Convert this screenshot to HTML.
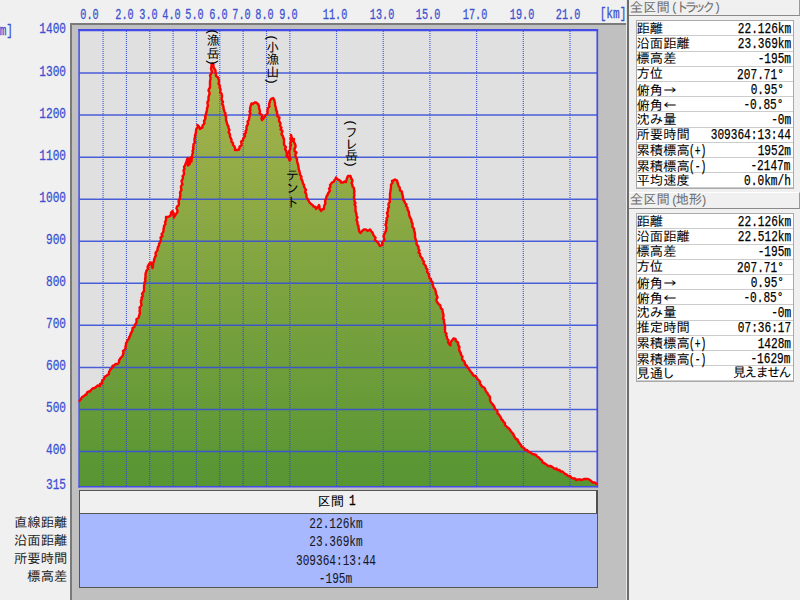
<!DOCTYPE html>
<html lang="ja"><head><meta charset="utf-8"><title>profile</title>
<style>
html,body{margin:0;padding:0}
body{width:800px;height:600px;overflow:hidden;position:relative;background:#f0f0f0;
 font-family:"Liberation Mono","IPAGothic","Noto Sans CJK JP",monospace;font-size:13.33px;color:#000;line-height:1}
.a{position:absolute;white-space:nowrap}
.j{font-family:"Liberation Mono","IPAGothic","Noto Sans CJK JP",monospace;font-size:13.33px}
.jj{font-family:"IPAGothic","Noto Sans CJK JP",sans-serif}
.l{font-family:"Liberation Mono",monospace;font-size:15px;display:inline-block;transform:scaleX(.741);-webkit-text-stroke:0.3px}
.m{font-family:"Liberation Mono",monospace;font-size:14px;display:inline-block;transform:scaleX(.794);-webkit-text-stroke:0.25px}
.lr{transform-origin:100% 50%}
.ll{transform-origin:0 50%}
.lc{transform-origin:50% 50%}
.bl{color:#3c50d0}
.vl{width:14px;writing-mode:vertical-rl;text-orientation:mixed;color:#000;line-height:14px;font-size:13px;letter-spacing:-0.3px}
.vp{font-family:"Liberation Mono",monospace;font-size:13.33px;position:relative}
.vp1{top:1.6px}
.vp2{top:-1px}
#panel{position:absolute;left:69.6px;top:22.6px;width:556.3px;height:600px;background:#c0c0c0;border-left:2.3px solid #7a7a7a;border-top:2.3px solid #7a7a7a;box-sizing:border-box}
#split1{position:absolute;left:625.9px;top:0;width:1.3px;height:600px;background:#e6e6e6}
#split2{position:absolute;left:627.2px;top:0;width:1.4px;height:600px;background:#6c6c6c}
.hd{position:absolute;left:629px;width:171px;background:#f0f0f0;border-bottom:1.3px solid #8a8a8a;border-right:1.5px solid #999;box-sizing:border-box}
.hd span{position:absolute;left:0.8px;font-family:"Liberation Mono","IPAGothic","Noto Sans CJK JP",monospace;font-size:13.33px;color:#6e6e6e;white-space:nowrap}
.hd .p{position:static;font-size:12px;margin:0 -1.8px;vertical-align:0.5px}
.hd .kn{position:static;letter-spacing:-4.4px;margin-right:4.4px}
.tb{position:absolute;left:636px;width:157.5px;background:#fff;border:1px solid #aaa;box-sizing:border-box}
.row{position:absolute;left:0;width:155.5px;height:15.2px;border-bottom:1px solid #ccc;box-sizing:border-box}
.row .k{position:absolute;left:-0.5px;top:1.5px;white-space:nowrap}
.row .v{position:absolute;right:1.7px;top:0.8px;white-space:nowrap}
#sec{position:absolute;left:78.5px;top:489.6px;width:519px;height:24.2px;background:#f0f0f0;border:1.3px solid #555;border-right:2px solid #505050;box-sizing:border-box}
#bluebox{position:absolute;left:78.5px;top:513.2px;width:519px;height:74.5px;background:#a7b8ff;border:1.2px solid #555;box-sizing:border-box}
</style></head><body>
<div id="panel"></div>
<div id="split1"></div><div id="split2"></div>

<svg id="chart" width="800" height="600" viewBox="0 0 800 600" style="position:absolute;left:0;top:0">
<defs><linearGradient id="g" gradientUnits="userSpaceOnUse" x1="0" y1="60" x2="0" y2="487"><stop offset="0" stop-color="rgb(169,180,77)"/><stop offset="1" stop-color="rgb(87,149,51)"/></linearGradient></defs>
<rect x="79.5" y="30.5" width="517.5" height="456.0" fill="#e0e0e0"/>
<polygon points="79.5,486.5 79.5,401 80,400 85,395 91.25,390 97.5,385.5 100,386 103.75,378.75 108.75,373.75 112.5,366.25 117.5,363.75 121.25,357.5 126.25,345 132.5,330 138.75,316.25 141.25,302.5 143.75,287.5 146.25,272.5 147.5,267 151.25,262.5 152.5,268 153.75,260 160,242.5 163.75,227.5 166.25,217 170,216.25 172.5,211.25 173.75,217.5 176.25,213.75 178.75,200 181.25,186.25 183.75,172.5 185.5,163.75 186.4,161.5 187.3,158 188,165.5 188.9,159.5 189.6,164.5 190.4,157.5 191.3,161.5 192,157.5 193,147.5 196.25,132.5 197.5,125 200,128.75 202.5,127.5 206.25,115 210,82.5 212.5,63.5 215.5,72.5 218.75,82.5 225,115 230,135 235,150 238.75,149.5 243.75,137.5 247.5,125 251.5,103.5 256.25,102.5 258.75,106.25 262,120 266.25,115 270,101.25 273,98 276.25,110 280,122.5 283.75,141 287.5,157 289.5,160.5 290.75,135 292.5,141 293.75,138.75 296.25,157.5 298.75,170 303.75,185 307.5,198.75 311.25,203.75 316.25,208.75 318.75,205 321.25,211.25 323.75,208.75 327.5,195 331.25,183.75 336.25,177.5 341.25,182.5 346.25,182 348,176.25 350.5,176.25 353.75,190 356.25,212.5 358.75,231.25 360.5,233 363.75,229.5 367.5,231.25 370,229.5 372.5,232.5 376.25,241.25 380,246.25 382.5,245 385,232.5 387.5,215 390,195 392,181.25 395,179.5 397.5,182.5 402.5,195 406.25,206.25 410,217.5 413.75,228.5 416.25,240.5 420,255.5 425,265 428.75,276.25 432.5,283.75 436.25,292.5 437.5,302.5 442.5,311.25 444.5,323.75 446.25,335 448.75,343.75 450.5,345.5 452.5,340 455.5,338.75 458,342.5 460,352 463.75,361.25 468.75,368.75 472.5,374 477.5,378.75 483.75,387.5 490,398.75 495,408.75 501.25,417.5 506.25,426.25 510,430 515,437.5 520,443.75 525,450 532.5,453.75 538.75,457.5 542.5,462.5 550,466.25 557.5,470 565,473.75 571.25,477.5 576.25,480 583.75,478.75 590,480 596.5,484 597.0,486.5" fill="url(#g)"/>
<line x1="103.09" y1="31" x2="103.09" y2="486" stroke="#3048d8" stroke-width="1.15" stroke-dasharray="1 1" opacity="0.9"/>
<line x1="126.44" y1="31" x2="126.44" y2="486" stroke="#3048d8" stroke-width="1.15" stroke-dasharray="1 1" opacity="0.9"/>
<line x1="149.78" y1="31" x2="149.78" y2="486" stroke="#3048d8" stroke-width="1.15" stroke-dasharray="1 1" opacity="0.9"/>
<line x1="173.13" y1="31" x2="173.13" y2="486" stroke="#3048d8" stroke-width="1.15" stroke-dasharray="1 1" opacity="0.9"/>
<line x1="196.47" y1="31" x2="196.47" y2="486" stroke="#3048d8" stroke-width="1.15" stroke-dasharray="1 1" opacity="0.9"/>
<line x1="219.82" y1="31" x2="219.82" y2="486" stroke="#3048d8" stroke-width="1.15" stroke-dasharray="1 1" opacity="0.9"/>
<line x1="243.16" y1="31" x2="243.16" y2="486" stroke="#3048d8" stroke-width="1.15" stroke-dasharray="1 1" opacity="0.9"/>
<line x1="266.51" y1="31" x2="266.51" y2="486" stroke="#3048d8" stroke-width="1.15" stroke-dasharray="1 1" opacity="0.9"/>
<line x1="289.86" y1="31" x2="289.86" y2="486" stroke="#3048d8" stroke-width="1.15" stroke-dasharray="1 1" opacity="0.9"/>
<line x1="336.54" y1="31" x2="336.54" y2="486" stroke="#3048d8" stroke-width="1.15" stroke-dasharray="1 1" opacity="0.9"/>
<line x1="383.24" y1="31" x2="383.24" y2="486" stroke="#3048d8" stroke-width="1.15" stroke-dasharray="1 1" opacity="0.9"/>
<line x1="429.92" y1="31" x2="429.92" y2="486" stroke="#3048d8" stroke-width="1.15" stroke-dasharray="1 1" opacity="0.9"/>
<line x1="476.62" y1="31" x2="476.62" y2="486" stroke="#3048d8" stroke-width="1.15" stroke-dasharray="1 1" opacity="0.9"/>
<line x1="523.30" y1="31" x2="523.30" y2="486" stroke="#3048d8" stroke-width="1.15" stroke-dasharray="1 1" opacity="0.9"/>
<line x1="570.00" y1="31" x2="570.00" y2="486" stroke="#3048d8" stroke-width="1.15" stroke-dasharray="1 1" opacity="0.9"/>
<line x1="79.5" y1="451.50" x2="597.0" y2="451.50" stroke="#3850d8" stroke-width="1.5" opacity="0.9"/>
<line x1="79.5" y1="409.45" x2="597.0" y2="409.45" stroke="#3850d8" stroke-width="1.5" opacity="0.9"/>
<line x1="79.5" y1="367.40" x2="597.0" y2="367.40" stroke="#3850d8" stroke-width="1.5" opacity="0.9"/>
<line x1="79.5" y1="325.35" x2="597.0" y2="325.35" stroke="#3850d8" stroke-width="1.5" opacity="0.9"/>
<line x1="79.5" y1="283.30" x2="597.0" y2="283.30" stroke="#3850d8" stroke-width="1.5" opacity="0.9"/>
<line x1="79.5" y1="241.25" x2="597.0" y2="241.25" stroke="#3850d8" stroke-width="1.5" opacity="0.9"/>
<line x1="79.5" y1="199.20" x2="597.0" y2="199.20" stroke="#3850d8" stroke-width="1.5" opacity="0.9"/>
<line x1="79.5" y1="157.15" x2="597.0" y2="157.15" stroke="#3850d8" stroke-width="1.5" opacity="0.9"/>
<line x1="79.5" y1="115.10" x2="597.0" y2="115.10" stroke="#3850d8" stroke-width="1.5" opacity="0.9"/>
<line x1="79.5" y1="73.05" x2="597.0" y2="73.05" stroke="#3850d8" stroke-width="1.5" opacity="0.9"/>
<g stroke="#444ce8" fill="none"><line x1="78.3" y1="30.2" x2="598.1" y2="30.2" stroke-width="2.2"/><line x1="79.1" y1="29.1" x2="79.1" y2="487.5" stroke-width="1.5"/><line x1="597.3" y1="29.1" x2="597.3" y2="487.5" stroke-width="1.7"/><line x1="78.3" y1="486.8" x2="598.1" y2="486.8" stroke-width="1.5"/></g>
<polyline points="79.5,401 80,400 81,399 82,397 84,396 85,395 86.5,394.5 87,392.5 88.5,391.5 90,391.5 91,390 92.5,388.5 94.5,388 96,387 97.5,385.5 100,386 100,384 102,383.5 102,381.5 102.5,380 104,379 104.5,377 106,376 107.5,375 109,374 109,372 110,370.5 110.5,369 112,368 112.5,366 114,365.5 115.5,364 117.5,364 119,362.5 119,360.5 120,359 121,357.5 122.5,356 123,354.5 123.5,353 123,351 124.5,350 125.5,348.5 125.5,346.5 126,345 126,343 127,342 127.5,340 129,339 129,337.5 130,336 130.5,334.5 131,333 132,331.5 132.5,330 132.5,328 134.5,327 134.5,325.5 135.5,324 136.5,322.5 136.5,320.5 136.5,319 138.5,318 139,316 139.5,314.5 140,313 139.5,311 140,309.5 139.5,307.5 141,306 141.5,304.5 141,302.5 141,300.5 142,299 141.5,297.5 143,296 142,294 143,292.5 144,291 144,289 144,287.5 144,286 144.5,284 144.5,282.5 145.5,281 145,279 145.5,277.5 145.5,276 145.5,274 146,272.5 146.5,270.5 148,269 147.5,267 148.5,265 149.5,263.5 151,262.5 151.5,264.5 152,266 152.5,268 153,266.5 153,265 153,263 154,261.5 154,260 154.5,258.5 155,257 156,255.5 155.5,253.5 156,252 157.5,250.5 157.5,249 158,247 159,245.5 159,244 160,242.5 160.5,241 161,239 160.5,237.5 162.5,236 161.5,234 163,232.5 163.5,231 163.5,229 164,227.5 164,226 165.5,224 165,222 166,220.5 166,219 166,217 168,217 170,216 171,214.5 171,212.5 172.5,211 173.5,213 173.5,215.5 174,217.5 175,215.5 176,214 177.5,212 177.5,210.5 176.5,208.5 177,206.5 178.5,205.5 179,203.5 178.5,201.5 179,200 180,198.5 180,196.5 180.5,195 180,193 180.5,191.5 181.5,190 181,188 181,186 182.5,184.5 182,183 181.5,181 182.5,179.5 183,177.5 182.5,176 184,174.5 184,172.5 183.5,170.5 184.5,169 184,167 185,165.5 185.5,164 186.5,161.5 187,160 187.5,158 188,160 187,162 188,163.5 188,165.5 188.5,163.5 188.5,161.5 189,159.5 189,161 190,162.5 189.5,164.5 189.5,162.5 190,161 190,159 190.5,157.5 190.5,159.5 191.5,161.5 191.5,159.5 192,157.5 192,156 192.5,154 193,152.5 192.5,151 193.5,149 193,147.5 193.5,146 193.5,144 195,142.5 194.5,141 194.5,139 195,137.5 195,135.5 195.5,134 196,132.5 196,130.5 196.5,128.5 198,127 197.5,125 199,126.5 200,129 202.5,127.5 202.5,125.5 203.5,124.5 204.5,123 204,121 205,119.5 205.5,118 205,116.5 206,115 206,113.5 206.5,112 207,110 207,108.5 207.5,107 208,105.5 207.5,103.5 207.5,102 208.5,100.5 208.5,99 208.5,97 209,95.5 209.5,94 209.5,92.5 208.5,90.5 209,89 210,87.5 210,86 210,84 210,82.5 210,81 210.5,79 210.5,77.5 210,75.5 211,74 212,72 211.5,70.5 211,68.5 211.5,67 211.5,65 212.5,63.5 213.5,65 213.5,67 214.5,69 215.5,70.5 215.5,72.5 216,74 216,76 218,77.5 218.5,79 219,80.5 219,82.5 218.5,84 220,85.5 219.5,87.5 220.5,89 220.5,90.5 220,92.5 221.5,93.5 222,95.5 222,97 221.5,99 222,100.5 223,102 222,104 223,105 223.5,107 223.5,108.5 224,110 224.5,112 225.5,113 225,115 226,116.5 226,118.5 226,120 226.5,121.5 227,123.5 227.5,125 228.5,126.5 228.5,128 229.5,130 228.5,132 229.5,133.5 230,135 230,137 231,138.5 231.5,140 231.5,142 233,143 233,145 234.5,146.5 235,148 235,150 237,150 239,149.5 239.5,148 239.5,146.5 241.5,145.5 241.5,143.5 241,141.5 243,140.5 243,139 244,137.5 245,136 244,134 246,133 245.5,131 246.5,130 246.5,128 246.5,126.5 247.5,125 248,123.5 247.5,121.5 249,120 249,118.5 249.5,117 249.5,115 250.5,113.5 249.5,111.5 250.5,110 250,108.5 250.5,106.5 251,105 251.5,103.5 253,104 254.5,102.5 256,102.5 258,104 259,106 259,108 259.5,109.5 260,111.5 259.5,113.5 261.5,114.5 262,116.5 261.5,118.5 262,120 263,119 264,117.5 265,116 266,115 267.5,113.5 267.5,111.5 267.5,110 268,108 269.5,106.5 269,104.5 269.5,103 270,101 271,99 273,98 274,99.5 274.5,101 275,103 275,105 275.5,106.5 276,108.5 276,110 277,111.5 277,113 277.5,115 277.5,116.5 279.5,117.5 279,119.5 279,121 280,122.5 280.5,124 280,126 281.5,127.5 280.5,129.5 282.5,131 282,132.5 281.5,134.5 283,136 283,137.5 284,139 284,141 284,142.5 284,144.5 285,146 286,147 285,149 286,150.5 286.5,152 287,154 286.5,155.5 287.5,157 289,158.5 289.5,160.5 290.5,159 289.5,157 289.5,155.5 289.5,153.5 289,152 289.5,150.5 290.5,148.5 290,147 291,145 290,143.5 291,142 291,140 290.5,138.5 291.5,136.5 291,135 291.5,137 292.5,139 292.5,141 294,139 293.5,140.5 294,142 295,144 295.5,145.5 295.5,147 294.5,149 294.5,151 296.5,152.5 295.5,154 295.5,156 296,157.5 297,159 297,161 297.5,163 298,164.5 298.5,166.5 298.5,168 299,170 299.5,171.5 300,173.5 300,175 301.5,176.5 301,178.5 302,180 302.5,181.5 303,183.5 304,185 304,186.5 305,188.5 306,190 305,192 306,193.5 306.5,195.5 306.5,197 307.5,199 308.5,200.5 309.5,202.5 311,204 312.5,205 313.5,206.5 315.5,207 316,209 318,207 319,205 319.5,206.5 319.5,208.5 320.5,210 321,211 322,209.5 324,209 324,207 324.5,205 325.5,203.5 325,201.5 325.5,200 326,198.5 326.5,196.5 327.5,195 328,193.5 329,192 330,190.5 329,188.5 330.5,187 330,185 331,184 332,182.5 334,181.5 334.5,180 335.5,179 336,177.5 337,179 339,180 340.5,181 341,182.5 343,182.5 344.5,181.5 346,182 346.5,180 347,178 348,176 350.5,176 351,178 352,179.5 352.5,181 351.5,183 352.5,185 352.5,186.5 354,188 354,190 354.5,191.5 354,193 354.5,195 354,196.5 354,198 354.5,199.5 354.5,201.5 355.5,203 354.5,204.5 355.5,206 355.5,207.5 355.5,209.5 355.5,211 356,212.5 356.5,214 356.5,216 357.5,217.5 356.5,219.5 357,221 357.5,222.5 357.5,224.5 358.5,226 358.5,228 359,229.5 359,231 360.5,233 362,231 364,229.5 366,229.5 367.5,231 370,229.5 371,231 372.5,232.5 373,234 374,236 375.5,237.5 375,240 376,241 378,242.5 379,244.5 380,246 382.5,245 382,243 383,241.5 384.5,240 384,238 383.5,236 384.5,234 385,232.5 386,231 386,229.5 386.5,228 386,226 385.5,224.5 386.5,223 386,221.5 387,220 386.5,218 388,216.5 387.5,215 387,213 388,211.5 388,210 388,208.5 389,207 388.5,205 388.5,203.5 390,202 389.5,200 390,198.5 390,196.5 390,195 390,193.5 390.5,191.5 390.5,190 391,188 391,186.5 391,184.5 392.5,183 392,181 393.5,180.5 395,179.5 397,180.5 397.5,182.5 398,184 398.5,186 399.5,187 400,189 400,190.5 402,191.5 402,193.5 402.5,195 403,196.5 403,198.5 403.5,200 404.5,201.5 405,203 406.5,204.5 406,206 407.5,207.5 407.5,209.5 408.5,211 409,212.5 409,214.5 409.5,216 410,217.5 411,219 411.5,220.5 411.5,222 412.5,223.5 412.5,225.5 412.5,227 414,228.5 414,230 414.5,232 415,233.5 415,235.5 415,237 415.5,239 416,240.5 416.5,242 416.5,244 417.5,245.5 418.5,247 418.5,249 419.5,250.5 418.5,252.5 420,253.5 420,255.5 421,257 422.5,258.5 422.5,260 424,261.5 423.5,263.5 425,265 426,266.5 426,268 427.5,269.5 427,271.5 428,273 429,274.5 429,276 429.5,278 431,279 431,281 432.5,282 432.5,284 433,285.5 433.5,287.5 435,289 435.5,291 436,292.5 436,294 437,296 437.5,297.5 436.5,299 436.5,301 437.5,302.5 438.5,304 440,305 440.5,306.5 441,308.5 442.5,309.5 442.5,311 443,313 443.5,315 443.5,316.5 443,318.5 444,320 444,322 444.5,324 445,325.5 445,327 445,328.5 445,330 445,332 446.5,333.5 446,335 447,337 447,338.5 448.5,340 448,342 449,344 450.5,345.5 450.5,343.5 451,341.5 452.5,340 453.5,338.5 455.5,339 456,341 458,342.5 458,344 458.5,345.5 459.5,347 459,349 459.5,350.5 460,352 461,353.5 461,355 462.5,356.5 462,358.5 462.5,360 464,361 465,363 465,364.5 467,366 467.5,367.5 469,369 469.5,370 470.5,371.5 471.5,372.5 472.5,374 473.5,375.5 475.5,376 476.5,377.5 477.5,379 478.5,380 480,381.5 480,383.5 481,385 482,386.5 484,387.5 485,388.5 485.5,390.5 486,391.5 487.5,393 488,394.5 489,395.5 490,397 490,399 490,400.5 491,402.5 492.5,404 493.5,405.5 494.5,407 495,409 496.5,410 497.5,411.5 497.5,413.5 499,414.5 500,416.5 501,417.5 501.5,419.5 503,420.5 503.5,422 505,423 505,425 506,426 507.5,427.5 509,428.5 510,430 511,431.5 512.5,433 513.5,434.5 514,436 515,437.5 516,439 517.5,439.5 518,441 519,442.5 520,444 521,445 521.5,446.5 523,447.5 524.5,448.5 525,450 527,450 528,451.5 529.5,452 531,453 532.5,454 534.5,454.5 536,455 537,456.5 539,457.5 540,459 542,460.5 542.5,462.5 544,463 545.5,464 547,465 548,466 550,466 551.5,466.5 553,467.5 554.5,469 556.5,468.5 557.5,470 559.5,470 560.5,471.5 562.5,471.5 563.5,472.5 565,474 566.5,474.5 568,476 570,476 571,477.5 573,478.5 575,478.5 576,480 578,479.5 580,479.5 582,480 584,479 586,479 588,479 590,480 591.5,481.5 593,482.5 595,482.5 596.5,484" fill="none" stroke="#ff0000" stroke-width="2.4" stroke-linejoin="round" stroke-linecap="round"/>
</svg>
<div class="a bl" style="left:59.4px;top:8px;width:60px;text-align:center"><span class="l lc" style="transform:scaleX(.68)">0.0</span></div>
<div class="a bl" style="left:94.8px;top:8px;width:60px;text-align:center"><span class="l lc" style="transform:scaleX(.68)">2.0</span></div>
<div class="a bl" style="left:118.2px;top:8px;width:60px;text-align:center"><span class="l lc" style="transform:scaleX(.68)">3.0</span></div>
<div class="a bl" style="left:141.5px;top:8px;width:60px;text-align:center"><span class="l lc" style="transform:scaleX(.68)">4.0</span></div>
<div class="a bl" style="left:164.9px;top:8px;width:60px;text-align:center"><span class="l lc" style="transform:scaleX(.68)">5.0</span></div>
<div class="a bl" style="left:188.2px;top:8px;width:60px;text-align:center"><span class="l lc" style="transform:scaleX(.68)">6.0</span></div>
<div class="a bl" style="left:211.6px;top:8px;width:60px;text-align:center"><span class="l lc" style="transform:scaleX(.68)">7.0</span></div>
<div class="a bl" style="left:234.9px;top:8px;width:60px;text-align:center"><span class="l lc" style="transform:scaleX(.68)">8.0</span></div>
<div class="a bl" style="left:258.3px;top:8px;width:60px;text-align:center"><span class="l lc" style="transform:scaleX(.68)">9.0</span></div>
<div class="a bl" style="left:304.9px;top:8px;width:60px;text-align:center"><span class="l lc" style="transform:scaleX(.68)">11.0</span></div>
<div class="a bl" style="left:351.6px;top:8px;width:60px;text-align:center"><span class="l lc" style="transform:scaleX(.68)">13.0</span></div>
<div class="a bl" style="left:398.3px;top:8px;width:60px;text-align:center"><span class="l lc" style="transform:scaleX(.68)">15.0</span></div>
<div class="a bl" style="left:445.0px;top:8px;width:60px;text-align:center"><span class="l lc" style="transform:scaleX(.68)">17.0</span></div>
<div class="a bl" style="left:491.7px;top:8px;width:60px;text-align:center"><span class="l lc" style="transform:scaleX(.68)">19.0</span></div>
<div class="a bl" style="left:538.4px;top:8px;width:60px;text-align:center"><span class="l lc" style="transform:scaleX(.68)">21.0</span></div>
<div class="a bl" style="left:583.0px;top:7px;width:60px;text-align:center"><span class="l lc">[km]</span></div>
<div class="a bl" style="left:0;top:22.4px;width:66px;text-align:right"><span class="l lr">1400</span></div>
<div class="a bl" style="left:0;top:64.5px;width:66px;text-align:right"><span class="l lr">1300</span></div>
<div class="a bl" style="left:0;top:106.5px;width:66px;text-align:right"><span class="l lr">1200</span></div>
<div class="a bl" style="left:0;top:148.5px;width:66px;text-align:right"><span class="l lr">1100</span></div>
<div class="a bl" style="left:0;top:190.6px;width:66px;text-align:right"><span class="l lr">1000</span></div>
<div class="a bl" style="left:0;top:232.7px;width:66px;text-align:right"><span class="l lr">900</span></div>
<div class="a bl" style="left:0;top:274.7px;width:66px;text-align:right"><span class="l lr">800</span></div>
<div class="a bl" style="left:0;top:316.7px;width:66px;text-align:right"><span class="l lr">700</span></div>
<div class="a bl" style="left:0;top:358.8px;width:66px;text-align:right"><span class="l lr">600</span></div>
<div class="a bl" style="left:0;top:400.8px;width:66px;text-align:right"><span class="l lr">500</span></div>
<div class="a bl" style="left:0;top:442.9px;width:66px;text-align:right"><span class="l lr">400</span></div>
<div class="a bl" style="left:0;top:478.2px;width:66px;text-align:right"><span class="l lr">315</span></div>
<div class="a bl" style="left:-50px;top:23.6px;width:63.5px;text-align:right"><span class="l lr">[m]</span></div>
<div class="a j vl" style="left:204.8px;top:26px;letter-spacing:-0.3px"><span class="vp vp1">(</span>漁岳<span class="vp vp2">)</span></div>
<div class="a j vl" style="left:264.2px;top:32px;letter-spacing:-0.3px"><span class="vp vp1">(</span>小漁山<span class="vp vp2">)</span></div>
<div class="a j vl" style="left:343.0px;top:117.5px;letter-spacing:-0.3px"><span class="vp vp1">(</span><span style="letter-spacing:-1.7px">フレ</span>岳<span class="vp vp2">)</span></div>
<div class="a j vl" style="left:284.0px;top:167.5px;letter-spacing:0.2px">テント</div>
<div id="sec"></div><div id="bluebox"></div>
<div class="a" style="left:317.5px;top:495.5px;color:#000">区間</div>
<div class="a" style="left:349.3px;top:494.3px;color:#000"><span class="l ll">1</span></div>
<div class="a" style="left:236px;top:517.3px;width:200px;text-align:center;color:#181828"><span class="l lc" style="-webkit-text-stroke:0.1px">22.126km</span></div>
<div class="a" style="left:0;top:516.6px;width:67.3px;text-align:right;color:#222">直線距離</div>
<div class="a" style="left:236px;top:535.4px;width:200px;text-align:center;color:#181828"><span class="l lc" style="-webkit-text-stroke:0.1px">23.369km</span></div>
<div class="a" style="left:0;top:534.7px;width:67.3px;text-align:right;color:#222">沿面距離</div>
<div class="a" style="left:236px;top:553.5px;width:200px;text-align:center;color:#181828"><span class="l lc" style="-webkit-text-stroke:0.1px">309364:13:44</span></div>
<div class="a" style="left:0;top:552.8px;width:67.3px;text-align:right;color:#222">所要時間</div>
<div class="a" style="left:236px;top:571.6px;width:200px;text-align:center;color:#181828"><span class="l lc" style="-webkit-text-stroke:0.1px">-195m</span></div>
<div class="a" style="left:0;top:570.9px;width:67.3px;text-align:right;color:#222">標高差</div>
<div class="hd" style="top:0;height:16.2px"><span style="top:1.8px">全区間<b class="p" style="margin-left:1.2px;margin-right:-2.8px;font-weight:normal">(</b><i class="kn" style="font-style:normal">トラック</i><b class="p" style="font-weight:normal">)</b></span></div>
<div class="tb" style="top:20.3px;height:168.7px">
<div class="row" style="top:0.0px"><span class="k">距離</span><span class="v"><span class="m lr">22.126km</span></span></div>
<div class="row" style="top:15.2px"><span class="k">沿面距離</span><span class="v"><span class="m lr">23.369km</span></span></div>
<div class="row" style="top:30.4px"><span class="k">標高差</span><span class="v"><span class="m lr">-195m</span></span></div>
<div class="row" style="top:45.6px"><span class="k">方位</span><span class="v"><span class="m lr" style="margin-right:7px">207.71°</span></span></div>
<div class="row" style="top:60.8px"><span class="k">俯角<span class="jj">→</span></span><span class="v"><span class="m lr" style="margin-right:7px">0.95°</span></span></div>
<div class="row" style="top:76.0px"><span class="k">俯角<span class="jj">←</span></span><span class="v"><span class="m lr" style="margin-right:7px">-0.85°</span></span></div>
<div class="row" style="top:91.2px"><span class="k">沈み量</span><span class="v"><span class="m lr">-0m</span></span></div>
<div class="row" style="top:106.4px"><span class="k">所要時間</span><span class="v"><span class="m lr">309364:13:44</span></span></div>
<div class="row" style="top:121.6px"><span class="k">累積標高<span class="m ll" style="transform:scaleX(.69);margin-left:-1px">(+)</span></span><span class="v"><span class="m lr">1952m</span></span></div>
<div class="row" style="top:136.8px"><span class="k">累積標高<span class="m ll" style="transform:scaleX(.69);margin-left:-1px">(-)</span></span><span class="v"><span class="m lr">-2147m</span></span></div>
<div class="row" style="top:152.0px"><span class="k">平均速度</span><span class="v"><span class="m lr">0.0km/h</span></span></div>
</div>
<div class="hd" style="top:191.7px;height:17px;border-top:1px solid #fff"><span style="top:1.4px">全区間<b class="p" style="margin-left:1.2px;margin-right:-2.8px;font-weight:normal">(</b>地形<b class="p" style="font-weight:normal">)</b></span></div>
<div class="tb" style="top:213.3px;height:168.7px">
<div class="row" style="top:0.0px"><span class="k">距離</span><span class="v"><span class="m lr">22.126km</span></span></div>
<div class="row" style="top:15.2px"><span class="k">沿面距離</span><span class="v"><span class="m lr">22.512km</span></span></div>
<div class="row" style="top:30.4px"><span class="k">標高差</span><span class="v"><span class="m lr">-195m</span></span></div>
<div class="row" style="top:45.6px"><span class="k">方位</span><span class="v"><span class="m lr" style="margin-right:7px">207.71°</span></span></div>
<div class="row" style="top:60.8px"><span class="k">俯角<span class="jj">→</span></span><span class="v"><span class="m lr" style="margin-right:7px">0.95°</span></span></div>
<div class="row" style="top:76.0px"><span class="k">俯角<span class="jj">←</span></span><span class="v"><span class="m lr" style="margin-right:7px">-0.85°</span></span></div>
<div class="row" style="top:91.2px"><span class="k">沈み量</span><span class="v"><span class="m lr">-0m</span></span></div>
<div class="row" style="top:106.4px"><span class="k">推定時間</span><span class="v"><span class="m lr">07:36:17</span></span></div>
<div class="row" style="top:121.6px"><span class="k">累積標高<span class="m ll" style="transform:scaleX(.69);margin-left:-1px">(+)</span></span><span class="v"><span class="m lr">1428m</span></span></div>
<div class="row" style="top:136.8px"><span class="k">累積標高<span class="m ll" style="transform:scaleX(.69);margin-left:-1px">(-)</span></span><span class="v"><span class="m lr">-1629m</span></span></div>
<div class="row" style="top:152.0px"><span class="k">見<span style="letter-spacing:-1.6px">通し</span></span><span class="v"><span style="letter-spacing:-1.9px;margin-right:1px">見えません</span></span></div>
</div>
</body></html>
